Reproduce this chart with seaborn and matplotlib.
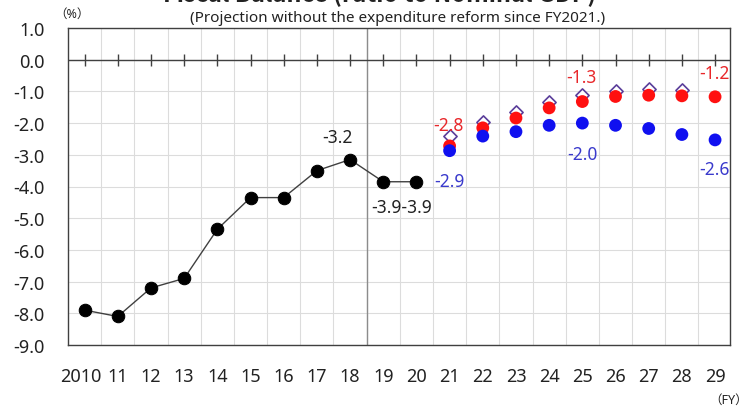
import numpy as np
import pandas as pd
import matplotlib
matplotlib.use("Agg")
import matplotlib.pyplot as plt
import matplotlib.transforms as mtransforms
import seaborn as sns

sns.set_style("white")
plt.rcParams['font.family'] = ['Noto Sans', 'Noto Sans CJK JP', 'DejaVu Sans']

# data
years = ['2010', '11', '12', '13', '14', '15', '16', '17', '18', '19',
         '20', '21', '22', '23', '24', '25', '26', '27', '28', '29']
actual = [-7.9, -8.1, -7.2, -6.9, -5.35, -4.35, -4.35, -3.5, -3.15, -3.85, -3.85]
proj_blue = [-2.87, -2.41, -2.27, -2.07, -2.0, -2.07, -2.17, -2.36, -2.53]
proj_red = [-2.72, -2.15, -1.84, -1.52, -1.32, -1.16, -1.12, -1.14, -1.17]
proj_diamond = [-2.42, -1.96, -1.66, -1.33, -1.12, -0.98, -0.93, -0.97]

pos = np.arange(len(years))
df_act = pd.DataFrame({'x': pos[:len(actual)], 'y': actual})
df_blue = pd.DataFrame({'x': pos[11:11 + len(proj_blue)], 'y': proj_blue})
df_red = pd.DataFrame({'x': pos[11:11 + len(proj_red)], 'y': proj_red})
df_dia = pd.DataFrame({'x': pos[11:11 + len(proj_diamond)], 'y': proj_diamond})

fig = plt.figure(figsize=(7.51, 4.10), dpi=100)
ax = fig.add_axes([68 / 751, 1 - 346 / 410, 662 / 751, 317 / 410])

# grid
ax.set_xticks(pos + 0.5, minor=True)
ax.grid(True, which='minor', axis='x', color='#dcdcdc', lw=0.8)
ax.grid(True, which='major', axis='y', color='#dcdcdc', lw=0.8)
ax.set_axisbelow(True)
ax.axvline(8.5, color='#8c8c8c', lw=1.0, zorder=1)
ax.axhline(0, color='#404040', lw=1.0, zorder=2)

# series
sns.lineplot(data=df_act, x='x', y='y', ax=ax, color='#404040', lw=1.0,
             marker='o', markersize=9, markerfacecolor='black',
             markeredgecolor='black', zorder=3)
sns.scatterplot(data=df_dia, x='x', y='y', ax=ax, marker='D', s=45,
                facecolor='white', edgecolor='#5a3d9a', linewidth=1.2, zorder=3)
sns.scatterplot(data=df_red, x='x', y='y', ax=ax, marker='o', s=85,
                color='#ff1010', edgecolor='none', zorder=4)
sns.scatterplot(data=df_blue, x='x', y='y', ax=ax, marker='o', s=85,
                color='#1010f0', edgecolor='none', zorder=5)

# labels
fs = 12.5
ax.text(7.62, -2.45, '-3.2', ha='center', va='center', fontsize=fs, color='#222222')
ax.text(9.55, -4.65, '-3.9-3.9', ha='center', va='center', fontsize=fs, color='#222222')
ax.text(10.96, -2.06, '-2.8', ha='center', va='center', fontsize=fs, color='#e8272a')
ax.text(11.0, -3.82, '-2.9', ha='center', va='center', fontsize=fs, color='#3a3acc')
ax.text(14.97, -0.56, '-1.3', ha='center', va='center', fontsize=fs, color='#e8272a')
ax.text(15.0, -2.98, '-2.0', ha='center', va='center', fontsize=fs, color='#3a3acc')
ax.text(18.98, -0.43, '-1.2', ha='center', va='center', fontsize=fs, color='#e8272a')
ax.text(18.98, -3.45, '-2.6', ha='center', va='center', fontsize=fs, color='#3a3acc')

# axes
ax.set_xlim(-0.5, 19.45)
ax.set_ylim(-9.0, 1.0)
ax.set_yticks(np.arange(-9, 1.5, 1.0))
ax.set_yticklabels([f'{v:.1f}' for v in np.arange(-9, 1.5, 1.0)], fontsize=13, color='#222222')
ax.set_xticks(pos)
ax.set_xticklabels(years, fontsize=13, color='#222222')
ax.tick_params(axis='both', which='both', length=0)
ax.tick_params(axis='y', pad=17)
ax.tick_params(axis='x', pad=16)
ax.set_xlabel('')
ax.set_ylabel('')
for s in ax.spines.values():
    s.set_color('#404040')
    s.set_linewidth(1.0)

# nudge "2010" left a little so it doesn't touch "11"
first = ax.get_xticklabels()[0]
first.set_transform(first.get_transform() +
                    mtransforms.ScaledTranslation(-4 / 100, 0, fig.dpi_scale_trans))

# tick marks crossing the zero line
ax2 = ax.twiny()
ax2.set_xlim(ax.get_xlim())
ax2.set_xticks(pos)
ax2.set_xticklabels([])
for s in ax2.spines.values():
    s.set_visible(False)
ax2.xaxis.set_ticks_position('bottom')
ax2.spines['bottom'].set_position(('data', 0))
ax2.tick_params(axis='x', direction='inout', length=9, width=1.0, color='#404040')

# titles (the main title is cut off at the top edge, as in the source image)
fig.text(0.505, 1 - 2 / 410, 'Fiscal Balance (ratio to Nominal GDP)', ha='center',
         va='baseline', fontsize=17, fontweight='bold', color='#222222',
         family=['Noto Sans CJK JP', 'DejaVu Sans'])
fig.text(0.529, 1 - 18 / 410, '(Projection without the expenditure reform since FY2021.)',
         ha='center', va='center', fontsize=11, color='#222222')
fig.text(72 / 751, 1 - 14 / 410, '（%）', ha='center', va='center', fontsize=9,
         color='#222222')
fig.text(729 / 751, 1 - 400 / 410, '（FY）', ha='center', va='center', fontsize=9,
         color='#222222')

fig.savefig('out.png', dpi=100)
